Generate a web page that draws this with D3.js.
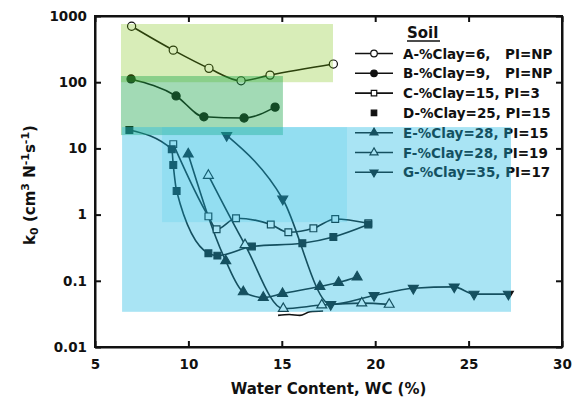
<!DOCTYPE html>
<html>
<head>
<meta charset="utf-8">
<script src="https://cdn.jsdelivr.net/npm/d3@7"></script>
<style>
  html, body { margin: 0; padding: 0; background: #fff; }
  svg { display: block; }
  text { font-family: "DejaVu Sans", "Liberation Sans", Arial, sans-serif; font-weight: bold; fill: #111; }
</style>
</head>
<body>
<svg id="chart" width="573" height="404"></svg>
<script>
// Water content (%) and k0 (cm^3 N^-1 s^-1) for each soil
const wcA = [6.96, 9.19, 11.10, 12.82, 14.37, 17.76];
const kA  = [700, 305, 162, 105, 128, 188];
const wcB = [6.93, 9.34, 10.83, 12.98, 14.64];
const kB  = [112, 62, 30, 28.8, 42];
const wcC = [9.19, 11.07, 11.51, 12.55, 14.41, 15.35, 16.69, 17.86, 19.63];
const kC  = [11.6, 0.94, 0.60, 0.88, 0.71, 0.54, 0.62, 0.86, 0.74];
const wcD = [6.84, 9.11, 9.19, 9.37, 11.07, 11.55, 13.40, 16.10, 17.76, 19.63];
const kD  = [19, 9.7, 5.6, 2.27, 0.26, 0.24, 0.33, 0.37, 0.46, 0.71];
const wcE = [9.99, 12.0, 12.94, 14.01, 15.04, 17.04, 18.04, 19.03];
const kE  = [8.2, 0.20, 0.068, 0.056, 0.064, 0.082, 0.094, 0.114];
const wcF = [11.07, 13.03, 15.08, 17.14, 19.28, 20.75];
const kF  = [3.9, 0.35, 0.038, 0.043, 0.046, 0.044];
const wcG = [12.05, 15.05, 17.62, 19.94, 22.04, 24.23, 25.29, 27.13];
const kG  = [15.7, 1.72, 0.044, 0.060, 0.077, 0.081, 0.063, 0.063];
// unmarked trace along the bottom of the data
const wcTrace = [14.8, 15.4, 15.97, 16.51, 17.21];
const kTrace  = [0.030, 0.031, 0.030, 0.034, 0.035];

const soilLabels = [
  ["A-%Clay=6,", "PI=NP"],
  ["B-%Clay=9,", "PI=NP"],
  ["C-%Clay=15, PI=3"],
  ["D-%Clay=25, PI=15"],
  ["E-%Clay=28, PI=15"],
  ["F-%Clay=28, PI=19"],
  ["G-%Clay=35, PI=17"]
];

// shaded ranges: [wc min, wc max, k min, k max]
const rangeLight = [6.39, 17.74, 100, 757];
const rangeGreen = [6.39, 15.06, 15.9, 124];
const rangeCyan  = [6.45, 27.27, 0.034, 21];
const rangeCore  = [8.59, 18.49, 0.77, 21];

const xTicks = [5, 10, 15, 20, 25, 30];
const yTicks = [0.01, 0.1, 1, 10, 100, 1000];
const yTickLabels = ["0.01", "0.1", "1", "10", "100", "1000"];

const svg = d3.select("#chart");
const L = 95, R = 562, T = 16, B = 347;
const x = d3.scaleLinear().domain([5, 30]).range([L, R]);
const y = d3.scaleLog().domain([0.01, 1000]).range([B, T]);

const series = [
  { wc: wcA, k: kA, shape: "circle", fill: "#fff" },
  { wc: wcB, k: kB, shape: "circle", fill: "#111" },
  { wc: wcC, k: kC, shape: "square", fill: "#fff" },
  { wc: wcD, k: kD, shape: "square", fill: "#111", noLegendLine: true },
  { wc: wcE, k: kE, shape: "triangle", fill: "#111" },
  { wc: wcF, k: kF, shape: "triangle", fill: "#fff" },
  { wc: wcG, k: kG, shape: "down", fill: "#111" }
];

function symbolPath(shape, scale) {
  const s = scale || 1;
  if (shape === "circle") return d3.symbol(d3.symbolCircle, 52 * s)();
  if (shape === "square") return d3.symbol(d3.symbolSquare, 46 * s)();
  return d3.symbol(d3.symbolTriangle, 42 * s)();
}

const line = d3.line().x(d => x(d[0])).y(d => y(d[1])).curve(d3.curveMonotoneX);

const dataG = svg.append("g");

// unmarked trace
dataG.append("path")
  .attr("d", line(wcTrace.map((w, i) => [w, kTrace[i]])))
  .attr("fill", "none").attr("stroke", "#111").attr("stroke-width", 1.6);

series.forEach(s => {
  const pts = s.wc.map((w, i) => [w, s.k[i]]);
  dataG.append("path")
    .attr("d", line(pts))
    .attr("fill", "none").attr("stroke", "#111").attr("stroke-width", 1.6);
});
series.forEach(s => {
  const pts = s.wc.map((w, i) => [w, s.k[i]]);
  dataG.selectAll(null).data(pts).enter().append("path")
    .attr("d", symbolPath(s.shape))
    .attr("transform", d => `translate(${x(d[0])},${y(d[1])})` + (s.shape === "down" ? " rotate(180)" : ""))
    .attr("fill", s.fill).attr("stroke", "#111").attr("stroke-width", 1.2);
});

// legend
const leg = svg.append("g");
leg.append("text").attr("x", 407).attr("y", 33).attr("dominant-baseline", "central")
  .style("font-size", "15px").text("Soil");
leg.append("line").attr("x1", 407).attr("x2", 440).attr("y1", 41).attr("y2", 41)
  .attr("stroke", "#111").attr("stroke-width", 1.5);
series.forEach((s, i) => {
  const yy = 53.5 + 19.8 * i;
  if (!s.noLegendLine) {
    leg.append("line").attr("x1", 355).attr("x2", 393).attr("y1", yy).attr("y2", yy)
      .attr("stroke", "#111").attr("stroke-width", 1.6);
  }
  leg.append("path").attr("d", symbolPath(s.shape, 0.65))
    .attr("transform", `translate(374,${yy})` + (s.shape === "down" ? " rotate(180)" : ""))
    .attr("fill", s.fill).attr("stroke", "#111").attr("stroke-width", 1.2);
  const lab = soilLabels[i];
  leg.append("text").attr("x", 403).attr("y", yy).attr("dominant-baseline", "central")
    .style("font-size", "13.5px").text(lab[0]);
  if (lab.length > 1) {
    leg.append("text").attr("x", 505).attr("y", yy).attr("dominant-baseline", "central")
      .style("font-size", "13.5px").text(lab[1]);
  }
});

// translucent shaded ranges laid over the data
const shade = svg.append("g");
function rangeRect(r, color, alpha) {
  shade.append("rect")
    .attr("x", x(r[0])).attr("y", y(r[3]))
    .attr("width", x(r[1]) - x(r[0])).attr("height", y(r[2]) - y(r[3]))
    .attr("fill", color).attr("fill-opacity", alpha);
}
rangeRect(rangeLight, "#73c000", 0.28);
rangeRect(rangeGreen, "#17a346", 0.4);
rangeRect(rangeCyan, "#1cb9e1", 0.38);
rangeRect(rangeCore, "#1cb9e1", 0.15);

// axes: inward ticks on all four sides
const fmtY = d => yTickLabels[yTicks.indexOf(d)];
const axB = svg.append("g").attr("transform", `translate(0,${B})`)
  .call(d3.axisBottom(x).tickValues(xTicks).tickSizeInner(-6).tickSizeOuter(0).tickPadding(12));
const axT = svg.append("g").attr("transform", `translate(0,${T})`)
  .call(d3.axisTop(x).tickValues(xTicks).tickSizeInner(-6).tickSizeOuter(0).tickFormat(""));
const axL = svg.append("g").attr("transform", `translate(${L},0)`)
  .call(d3.axisLeft(y).tickValues(yTicks).tickFormat(fmtY).tickSizeInner(-6).tickSizeOuter(0).tickPadding(8));
const axR = svg.append("g").attr("transform", `translate(${R},0)`)
  .call(d3.axisRight(y).tickValues(yTicks).tickSizeInner(-6).tickSizeOuter(0).tickFormat(""));
[axB, axT, axL, axR].forEach(a => {
  a.select(".domain").attr("stroke", "#111").attr("stroke-width", 2);
  a.selectAll(".tick line").attr("stroke", "#111").attr("stroke-width", 2);
  a.selectAll(".tick text").style("font-size", "13.5px").style("font-family", "DejaVu Sans").style("font-weight", "bold").attr("fill", "#111");
});
svg.append("rect").attr("x", L).attr("y", T).attr("width", R - L).attr("height", B - T)
  .attr("fill", "none").attr("stroke", "#111").attr("stroke-width", 2);

// axis titles
svg.append("text").attr("x", (L + R) / 2).attr("y", 389).attr("text-anchor", "middle")
  .attr("dominant-baseline", "central").style("font-size", "15px").text("Water Content, WC (%)");

const yt = svg.append("text").attr("transform", "translate(35,185) rotate(-90)")
  .attr("text-anchor", "middle").style("font-size", "15px");
yt.append("tspan").text("k");
yt.append("tspan").attr("baseline-shift", "-25%").style("font-size", "11px").text("0");
yt.append("tspan").text(" (cm");
yt.append("tspan").attr("baseline-shift", "super").style("font-size", "11px").text("3");
yt.append("tspan").text(" N");
yt.append("tspan").attr("baseline-shift", "super").style("font-size", "11px").text("-1");
yt.append("tspan").text("s");
yt.append("tspan").attr("baseline-shift", "super").style("font-size", "11px").text("-1");
yt.append("tspan").text(")");
</script>
</body>
</html>
